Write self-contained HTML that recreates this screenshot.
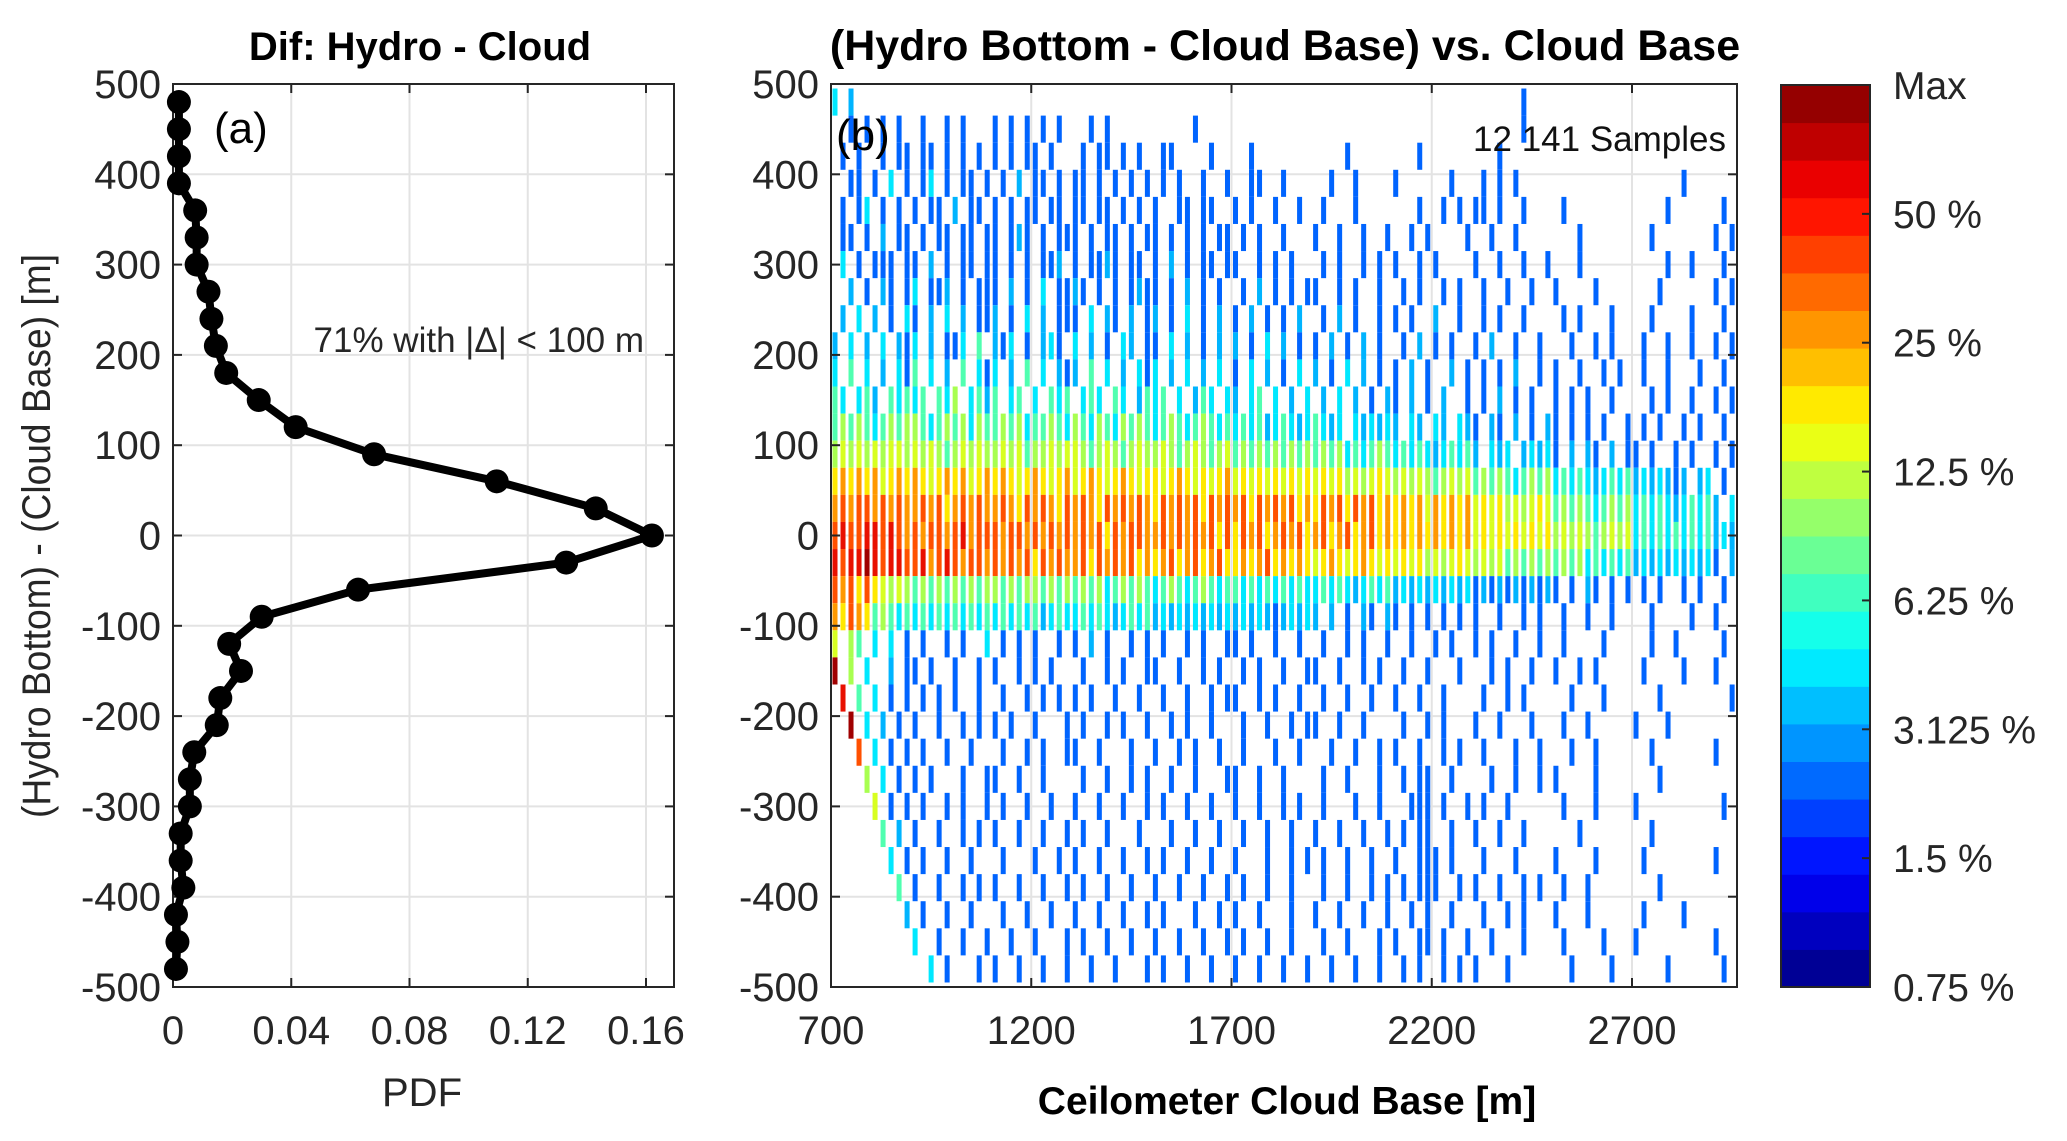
<!DOCTYPE html>
<html><head><meta charset="utf-8">
<style>
html,body{margin:0;padding:0;background:#fff;}
svg{display:block;font-family:"Liberation Sans",sans-serif;}
</style></head>
<body>
<svg id="fig" width="2067" height="1141" viewBox="0 0 2067 1141" xmlns="http://www.w3.org/2000/svg">
<g id="pa"></g>
<g id="pb"></g>
<g id="cb"></g>
</svg>
<script>
// ---- Panel (a) data ----
const pdfY = [480,450,420,390,360,330,300,270,240,210,180,150,120,90,60,30,0,-30,-60,-90,-120,-150,-180,-210,-240,-270,-300,-330,-360,-390,-420,-450,-480];
const pdfVal = [0.002,0.002,0.002,0.002,0.0075,0.008,0.008,0.012,0.013,0.0145,0.018,0.029,0.0415,0.068,0.1095,0.143,0.162,0.133,0.0626,0.030,0.019,0.023,0.016,0.0148,0.0072,0.0057,0.0057,0.0026,0.0026,0.0035,0.001,0.0015,0.001];
const aXTicks = [0,0.04,0.08,0.12,0.16];
const aXTickLabels = ["0","0.04","0.08","0.12","0.16"];
const yTicks = [500,400,300,200,100,0,-100,-200,-300,-400,-500];
// ---- Panel (b) data: rows from +480 to -480 (30 m bins), columns 700.. step 20 m ----
const binYs = [480,450,420,390,360,330,300,270,240,210,180,150,120,90,60,30,0,-30,-60,-90,-120,-150,-180,-210,-240,-270,-300,-330,-360,-390,-420,-450,-480];
const binX0 = 700, binDX = 20;
const levels = [
"4.3....... .......... .......... .......... .......... .......... .......... .......... ......2... .......... .......... .....",
"..2.2.2.2. .2..2.2... 2.2.2.2.2. ..2.2..... .....2.... .......... .......... .......... ......2... .......... .......... .....",
".2.2..2.22 .22.2.2.2. 2.2.22.2.. .2.22.2.2. .22....2.. ..2....... ....2..... ...2...... ...2...... .......... .......... .....",
"..22.2.4.2 .24.2.22.2 .2.3.22.2. 22.2.2.2.2 .2.2..2..2 ..22..2... ..2..2.... 2......2.. .2.2.2.... .......... ......2... .....",
".2.24.2.2. 2.22.3.22. 2.2.22.22. 22.22.2.2. 2..22.22.. 2.2..2..2. .2...2.... ...2..2.2. 22.2..2... .2........ ....2..... .2...",
".22.2.3.22 .2.22.22.2 2.232.2.22 2.2.22.2.2 2.2.2.2.22 .2.2..2... 2..2..2..2 ..2.2....2 ..2..2.... ...2...... ..2....... 2.2..",
".4.2.222.2 2.3.2.22.2 2.2.2.223. 2.2232.22. 2.3.2.22.2 2..2.2.2.. .2.2..2.2. 2..2.2.... 2..2..2..2 ...2...... ....2..2.. .2...",
"..3.2.32.2 4.223.2.22 2.3.2.4.22 32.2.2.232 2.2.3.2.2. .2.3.2.2.2 2..2.2..2. .2.2..2.2. .2..2..2.. 2....2.... ...2...... 2.2..",
".3.4.3.2.4 2.3.4.3.22 3.2.4.3.22 2.4.32.3.2 3.2.4.2.3. 2.3.2.2.3. .2.3.2..2. 2.2..3..2. .2.2..2... .2.2...2.. ..2....2.. .2...",
"3.4.3.4.32 4.3.224.5. 324.2.342. 4.3.2.43.2 2.4.3.2.3. 3.2.4.3.2. 2.3.2.3.2. .2.3.2.2.. 2.3..2..2. ..2..2.2.. .2..2..2.. 2.2..",
"4.5.4.3.42 5.4.3.5.42 4.3.5.4.32 3.5.4.3.42 4.3.4.3.4. 2.4.3.2.4. 3.2.4.3.2. 2.3.2..3.2 .2.2.3..2. 2..2..2.2. .2..2...2. .2...",
"54.453.545 45.546.453 5.45.4.545 .454.54.35 45.4.354.4 3.45.4.3.4 .3.4.3.2.3 2.3.2.3..2 .2.3.2.2.. 2.2.2..2.. ..2.2..2.. 2.2..",
"5656545656 6545656465 5656455654 6546546565 4565456545 4545345434 5434.43434 3.43.43.43 2.32.3.2.3 2.2.2.2..2 .2.2..2.2. .2.2.",
"6767676776 7676567676 6767566767 7656765676 6765676567 5656565656 5656454565 4545434545 3.434.3434 2.3.32.3.2 2.2..2.2.. 2.2..",
"8989897898 9878989789 8987898789 7898789878 8789878789 7878787878 7878676787 6767656767 5656545656 4545434545 3434323.34 .2.3.",
"9a9aa9a9a9 9a9a89a9a9 9a98a9a98a 9a98a9a9a9 8a9a9a8a9a 9a8a9a9a89 8a9a8a9a89 8989798989 7878676787 5656545656 4545434545 3.4.3",
"abaabbaba9 a9aa9ab9aa a9aa9a9a9a 9a9a8a9aa9 9a9a9a9a8a 8a9a89a9a8 9a89a89a89 8989898989 7878787878 6767656767 4545454545 34343",
"babbcbabba ab9aba9aa9 a9a9a8a9a9 9a8a9a9a89 89a89a89a8 8989a89898 7898789878 7878676787 6767565656 5656454545 3434343434 2.3.3",
"a9a8a87676 5656565656 6565665656 5656456565 4565456545 5454545454 4545434545 3434343434 2323232323 2.2.32.2.2 .2.2..2.2. .2...",
"98a9856545 4545454545 4545453454 4545434545 3434343434 3434323434 3.3.2.32.3 2.2.2.2.2. 2..2..2.2. .2..2..2.. ..2....2.. 2....",
"7.65.4.4.2 .2..2.2..4 .2.2.2..2. 2.3.2..2.2 .2..2.2..2 2.2..2..2. .2..2.2..2 ..2..2.2.. 2.2..2..2. .2....2... ..2..2.... .2...",
"c.6.4..3.2 2.2..2..2. 2..2.2.2.. .2..2.2..2 2..2..2.2. .2.2..2..2 2..2..2.2. .2..2...2. ..2.2..2.. 2..2.2.... .2....2... 2....",
".b.5.4.2.2 .2.2.2..2. .2..2.2.2. 2.2..2..2. .2..2..2.2 2..2.2..2. .2..2..2.. 2..2..2... .2..2.2... ..2...2... ...2...... ..2..",
"..c.4.3.2. 2..2..2.2. 2.2..2...2 .2..2.2..2 ..2.2..2.. .2..2..2.2 2..2..2... .2..2.2... 2..2...2.. .2..2..... 2...2..... .....",
"...a.4.2.2 .2..2..2.. .2..2.2..2 2..2...2.. 2..2.2..2. .2...2..2. ..2..2..2. 2..2..2.2. .2...2..2. ..2..2.... ..2....... 2....",
"....6.4.2. 2.2...2..2 2..2..2... .2..2..2.2 ..2..2...2 2..2..2... .2..2...2. .2.22..2.. ..2..2..2. 2....2.... ...2...... .....",
".....7.2.2 .2..2.2..2 .2..2..2.. 2..2..2..2 .2..2..2.. 2..2..2.2. .2...2..2. ..222.2..2 .2..2..... .2...2.... 2......... .2...",
"......5.3. 2..2..2.2. 2..2..2..2 .2..2...2. ..2..2..2. .2..2..2.. 2..2..2..2 .2.22..2.. 2..2..2... ...2...... ..2....... .....",
".......4.2 .2..2..2.. .2...2..2. 2..2..2..2 .2..2..2.. 2...2..2.2 .2..2..2.. 2..222.2.. .2...2.... 2....2.... .2........ 2....",
"........5. 2..2..2.2. 2..2..2..2 .2..2..2.. 2..2..2..2 .2..2..2.. .2..2..2.2 .2.222..2. 2..2..2.2. .2..2..... ...2...... .....",
".........3 .2..2..2.. .2..2..2.. 2..2..2..2 .2...2..2. 2..2...2.. 2..2..2..2 ..2.2..2.. .2..2.2... 2...2..... .2....2... .....",
".......... 4..2..2..2 ..2..2...2 .2..2..2.. 2..2..2..2 .2..2..2.. .2..2...2. 2..22.2..2 ..2...2... .2....2... 2......... 2....",
".......... ..4.2...2. 2..2..2..2 ..2..2...2 .2..2..2.. 2..2..2..2 ..2..2..2. .2.2..2.2. 2...2..... ..2....2.. ....2..... .2..."
];
const bXTicks = [700,1200,1700,2200,2700];
const cbLabels = ["Max","50 %","25 %","12.5 %","6.25 %","3.125 %","1.5 %","0.75 %"];
const levelColor = {"1":"#0040ff","2":"#0064ff","3":"#00b4ff","4":"#00e8ff","5":"#50ffb0","6":"#a8ff50","7":"#d8ff20","8":"#ffe800","9":"#ff9800","a":"#ff5000","b":"#e81000","c":"#a00000"};

const NS="http://www.w3.org/2000/svg";
function mk(tag, attrs, parent){const e=document.createElementNS(NS,tag);for(const k in attrs)e.setAttribute(k,attrs[k]);parent.appendChild(e);return e;}
const tc="#262626";

// ---------- Panel A ----------
const pa=document.getElementById('pa');
const A={l:173,r:674,t:84,b:987};
const ax=v=>A.l+v*(646-173)/0.16;
const ayA=v=>A.b-(v+500)*(A.b-A.t)/1000;
aXTicks.forEach(v=>{const g=mk('line',{x1:ax(v),x2:ax(v),y1:A.t,y2:A.b,stroke:'#e3e3e3','stroke-width':2},pa);});
yTicks.forEach(v=>{const g=mk('line',{x1:A.l,x2:A.r,y1:ayA(v),y2:ayA(v),stroke:'#e3e3e3','stroke-width':2},pa);});
let fr=mk('rect',{x:A.l,y:A.t,width:A.r-A.l,height:A.b-A.t,fill:'none',stroke:tc,'stroke-width':2},pa);

yTicks.forEach(v=>{
  mk('line',{x1:A.l,x2:A.l+9,y1:ayA(v),y2:ayA(v),stroke:tc,'stroke-width':2},pa);
  mk('line',{x1:A.r,x2:A.r-9,y1:ayA(v),y2:ayA(v),stroke:tc,'stroke-width':2},pa);
  const t=mk('text',{x:A.l-12,y:ayA(v)+14,'text-anchor':'end','font-size':40,fill:tc},pa);t.textContent=v;
  
});
aXTicks.forEach((v,i)=>{
  mk('line',{x1:ax(v),x2:ax(v),y1:A.b,y2:A.b-9,stroke:tc,'stroke-width':2},pa);
  mk('line',{x1:ax(v),x2:ax(v),y1:A.t,y2:A.t+9,stroke:tc,'stroke-width':2},pa);
  const t=mk('text',{x:ax(v),y:1044,'text-anchor':'middle','font-size':40,fill:tc},pa);t.textContent=aXTickLabels[i];
  
});
let pts=pdfY.map((y,i)=>ax(pdfVal[i])+','+ayA(y)).join(' ');
let pl=mk('polyline',{points:pts,fill:'none',stroke:'#000','stroke-width':8,'stroke-linejoin':'round'},pa);

pdfY.forEach((y,i)=>{const c=mk('circle',{cx:ax(pdfVal[i]),cy:ayA(y),r:12,fill:'#000'},pa);});
let t;
t=mk('text',{x:420,y:60,'text-anchor':'middle','font-size':40,'font-weight':'bold',fill:'#000'},pa);t.textContent='Dif: Hydro - Cloud';
t=mk('text',{x:422,y:1106,'text-anchor':'middle','font-size':40,fill:tc},pa);t.textContent='PDF';
t=mk('text',{x:0,y:0,'text-anchor':'middle','font-size':40,fill:tc,transform:'translate(50,536) rotate(-90) scale(0.93,1)'},pa);t.textContent='(Hydro Bottom) - (Cloud Base) [m]';
t=mk('text',{x:214,y:143,'font-size':44,fill:'#000'},pa);t.textContent='(a)';
t=mk('text',{x:644,y:352,'text-anchor':'end','font-size':35,fill:tc},pa);t.textContent='71% with |Δ| < 100 m';

// ---------- Panel B ----------
const pb=document.getElementById('pb');
const B={l:831,r:1737,t:84,b:987};
const bx=v=>B.l+(v-700)*801/2000;
const by=v=>B.b-(v+500)*(B.b-B.t)/1000;
bXTicks.forEach(v=>{const g=mk('line',{x1:bx(v),x2:bx(v),y1:B.t,y2:B.b,stroke:'#e3e3e3','stroke-width':2},pb);});
yTicks.forEach(v=>{const g=mk('line',{x1:B.l,x2:B.r,y1:by(v),y2:by(v),stroke:'#e3e3e3','stroke-width':2},pb);});
const cells=mk('g',{},pb);
levels.forEach((row,ri)=>{
  const s=row.replace(/ /g,'');
  for(let ci=0;ci<s.length;ci++){
    const ch=s[ci]; if(ch==='.'||!levelColor[ch]) continue;
    const x0=binX0+ci*binDX, yc=binYs[ri];
    const x1p=bx(x0), x2p=Math.min(bx(x0+binDX),B.r);
    if(x1p>=B.r) continue;
    const r=mk('rect',{x:x1p+1.5,y:by(yc+15),width:Math.max(0,x2p-x1p-3),height:by(yc-15)-by(yc+15),fill:levelColor[ch]},cells);
    
    
  }
});
fr=mk('rect',{x:B.l,y:B.t,width:B.r-B.l,height:B.b-B.t,fill:'none',stroke:tc,'stroke-width':2},pb);

yTicks.forEach(v=>{
  mk('line',{x1:B.l,x2:B.l+9,y1:by(v),y2:by(v),stroke:tc,'stroke-width':2},pb);
  mk('line',{x1:B.r,x2:B.r-9,y1:by(v),y2:by(v),stroke:tc,'stroke-width':2},pb);
  const t=mk('text',{x:B.l-12,y:by(v)+14,'text-anchor':'end','font-size':40,fill:tc},pb);t.textContent=v;
  
});
bXTicks.forEach(v=>{
  mk('line',{x1:bx(v),x2:bx(v),y1:B.b,y2:B.b-9,stroke:tc,'stroke-width':2},pb);
  mk('line',{x1:bx(v),x2:bx(v),y1:B.t,y2:B.t+9,stroke:tc,'stroke-width':2},pb);
  const t=mk('text',{x:bx(v),y:1044,'text-anchor':'middle','font-size':40,fill:tc},pb);t.textContent=v;
  
});
t=mk('text',{x:1285,y:60,'text-anchor':'middle','font-size':43,'font-weight':'bold',fill:'#000'},pb);t.textContent='(Hydro Bottom - Cloud Base) vs. Cloud Base';
t=mk('text',{x:1287,y:1114,'text-anchor':'middle','font-size':39,'font-weight':'bold',fill:'#000'},pb);t.textContent='Ceilometer Cloud Base [m]';
t=mk('text',{x:836,y:150,'font-size':44,fill:'#000'},pb);t.textContent='(b)';
t=mk('text',{x:1726,y:151,'text-anchor':'end','font-size':35,fill:'#111'},pb);t.textContent='12 141 Samples';

// ---------- Colorbar ----------
const cb=document.getElementById('cb');
const C={l:1781,r:1870,t:85,b:987};
function jet(v){const r=Math.min(Math.max(Math.min(4*v-1.5,-4*v+4.5),0),1),g=Math.min(Math.max(Math.min(4*v-0.5,-4*v+3.5),0),1),b=Math.min(Math.max(Math.min(4*v+0.5,-4*v+2.5),0),1);return `rgb(${Math.round(r*255)},${Math.round(g*255)},${Math.round(b*255)})`;}
const nb=24, bh=(C.b-C.t)/nb;
for(let i=0;i<nb;i++){const r=mk('rect',{x:C.l,y:C.b-(i+1)*bh,width:C.r-C.l,height:bh+0.5,fill:jet((i+0.5)/nb)},cb);}
fr=mk('rect',{x:C.l,y:C.t,width:C.r-C.l,height:C.b-C.t,fill:'none',stroke:tc,'stroke-width':2},cb);

cbLabels.forEach((lab,i)=>{
  const y=C.t+i*(C.b-C.t)/(cbLabels.length-1);
  if(i>0&&i<cbLabels.length-1) mk('line',{x1:C.r-8,x2:C.r,y1:y,y2:y,stroke:tc,'stroke-width':2},cb);
  const t=mk('text',{x:1893,y:y+14,'font-size':39,fill:tc},cb);t.textContent=lab;
  
});
</script>
</body></html>
